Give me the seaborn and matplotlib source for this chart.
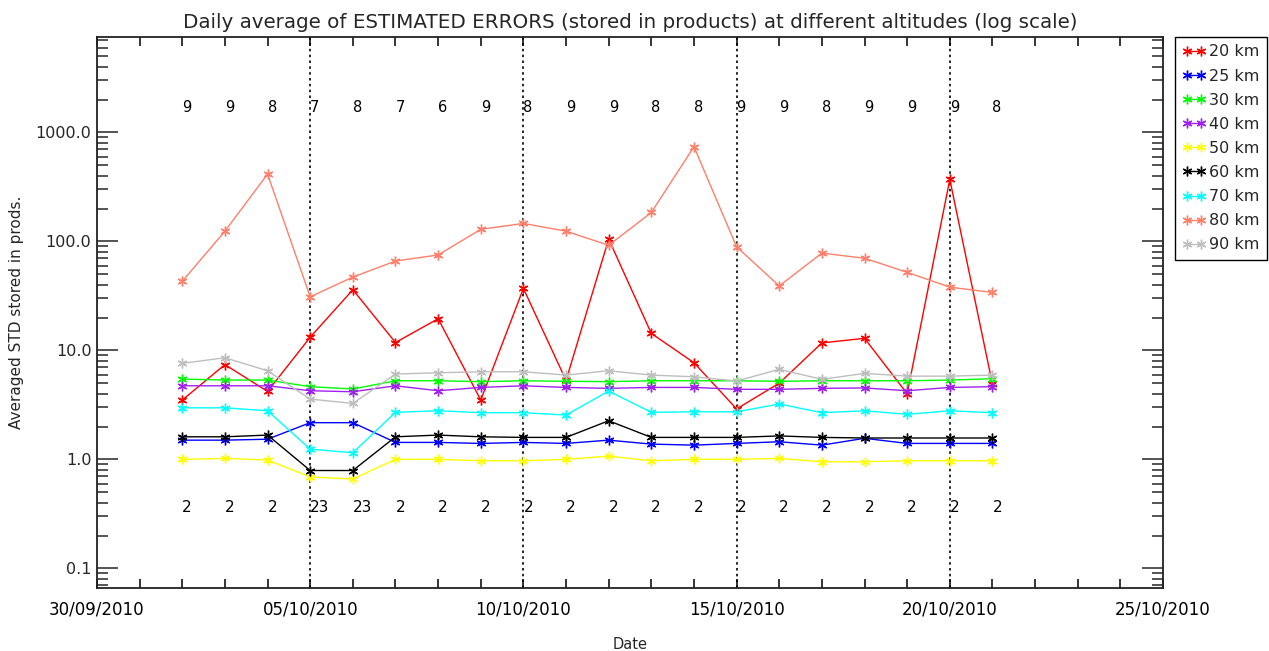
import matplotlib
matplotlib.use("Agg")
import matplotlib.pyplot as plt
import matplotlib.dates as mdates
import matplotlib.ticker as mticker
import pandas as pd
import seaborn as sns

# Daily dates of the averaged products
dates = pd.date_range("2010-10-02", "2010-10-21", freq="D")

# Daily average of estimated errors (stored in products) per altitude
err_20 = [3.5, 7.4, 4.2, 13.2, 36.0, 11.8, 19.5, 3.5, 37.0, 5.3, 105.0, 14.3, 7.7, 2.9, 5.0, 11.7, 12.9, 4.0, 370.0, 4.9]
err_25 = [1.50, 1.50, 1.53, 2.17, 2.17, 1.43, 1.43, 1.40, 1.43, 1.40, 1.50, 1.38, 1.35, 1.40, 1.45, 1.35, 1.56, 1.40, 1.40, 1.40]
err_30 = [5.45, 5.34, 5.34, 4.64, 4.42, 5.26, 5.26, 5.16, 5.26, 5.20, 5.16, 5.26, 5.26, 5.26, 5.20, 5.26, 5.26, 5.26, 5.34, 5.49]
err_40 = [4.73, 4.73, 4.73, 4.26, 4.17, 4.73, 4.26, 4.57, 4.73, 4.57, 4.48, 4.57, 4.57, 4.39, 4.39, 4.48, 4.52, 4.26, 4.57, 4.64]
err_50 = [1.00, 1.02, 0.985, 0.69, 0.66, 1.00, 1.00, 0.97, 0.97, 1.00, 1.07, 0.97, 1.00, 1.00, 1.02, 0.95, 0.95, 0.97, 0.97, 0.97]
err_60 = [1.61, 1.61, 1.67, 0.79, 0.79, 1.61, 1.67, 1.61, 1.59, 1.59, 2.26, 1.59, 1.59, 1.59, 1.64, 1.59, 1.57, 1.57, 1.57, 1.57]
err_70 = [2.97, 2.97, 2.79, 1.24, 1.15, 2.70, 2.79, 2.68, 2.68, 2.55, 4.23, 2.70, 2.73, 2.73, 3.22, 2.68, 2.79, 2.59, 2.79, 2.68]
err_80 = [43, 124, 414, 31, 47, 66, 75, 129, 146, 124, 92, 184, 738, 89, 39, 78, 70, 52, 38, 34]
err_90 = [7.6, 8.55, 6.5, 3.57, 3.26, 6.06, 6.23, 6.36, 6.36, 5.93, 6.5, 5.93, 5.72, 5.23, 6.7, 5.42, 6.15, 5.8, 5.8, 5.93]

altitudes = ["20 km", "25 km", "30 km", "40 km", "50 km", "60 km", "70 km", "80 km", "90 km"]
colors = ["#ff0000", "#0000ff", "#00ff00", "#a020f0", "#ffff00", "#000000", "#00ffff", "#ff7f6a", "#bebebe"]
series = [err_20, err_25, err_30, err_40, err_50, err_60, err_70, err_80, err_90]

# Number of products per day (upper row) and second count (lower row)
n_upper = [9, 9, 8, 7, 8, 7, 6, 9, 8, 9, 9, 8, 8, 9, 9, 8, 9, 9, 9, 8]
n_lower = ["2", "2", "2", "23", "23", "2", "2", "2", "2", "2", "2", "2", "2", "2", "2", "2", "2", "2", "2", "2"]

# Dates marked by dotted vertical lines and labelled date ticks
marked_dates = ["2010-10-05", "2010-10-10", "2010-10-15", "2010-10-20"]
tick_dates = ["2010-09-30", "2010-10-05", "2010-10-10", "2010-10-15", "2010-10-20", "2010-10-25"]

sns.set_style("ticks")
plt.rcParams["font.family"] = ["DejaVu Sans"]

W, H = 1269, 651
fig = plt.figure(figsize=(W / 100, H / 100), dpi=100)
left, right, top, bottom = 97, 1163, 37.3, 588.3
ax = fig.add_axes([left / W, 1 - bottom / H, (right - left) / W, (bottom - top) / H])
ax.set_yscale("log")

for label, vals, col in zip(altitudes, series, colors):
    sns.lineplot(x=dates, y=vals, ax=ax, color=col, linewidth=1.0,
                 marker=(6, 2, 0), markersize=7, markeredgecolor=col,
                 markeredgewidth=1.0, label=label)

for d in marked_dates:
    ax.axvline(mdates.date2num(pd.Timestamp(d)), color="black",
               linestyle=(0, (1.5, 2)), linewidth=1.2, zorder=1)

for d, nu, nl in zip(dates, n_upper, n_lower):
    xd = mdates.date2num(d)
    ax.text(xd, 1700, str(nu), ha="left", va="center", fontsize=10.5, color="black")
    ax.text(xd, 0.365, nl, ha="left", va="center", fontsize=11, color="black")

ax.set_xlim(mdates.date2num(pd.Timestamp(tick_dates[0])),
            mdates.date2num(pd.Timestamp(tick_dates[-1])))
ax.set_ylim(0.0656, 7450)

ax.set_xticks([mdates.date2num(pd.Timestamp(d)) for d in tick_dates])
ax.xaxis.set_major_formatter(mdates.DateFormatter("%d/%m/%Y"))
ax.xaxis.set_minor_locator(mdates.DayLocator())
ax.yaxis.set_major_locator(mticker.LogLocator(base=10))
ax.yaxis.set_major_formatter(mticker.FuncFormatter(lambda v, p: f"{v:.1f}"))
ax.yaxis.set_minor_locator(mticker.LogLocator(base=10, subs=range(2, 10)))
ax.yaxis.set_minor_formatter(mticker.NullFormatter())

ax.tick_params(axis="x", which="both", direction="in", length=6.5, width=1.1,
               top=True, bottom=True, labelsize=12, pad=9, colors="black")
ax.tick_params(axis="y", which="major", direction="in", length=15, width=1.1,
               left=True, right=True, labelsize=11.5, pad=4)
ax.tick_params(axis="y", which="minor", direction="in", length=8, width=1.1,
               left=True, right=True)

for sp in ax.spines.values():
    sp.set_color("#222222")
    sp.set_linewidth(1.3)

ax.set_title("Daily average of ESTIMATED ERRORS (stored in products) at different altitudes (log scale)",
             fontsize=14.3, pad=7)
ax.set_xlabel("Date", fontsize=10.5, labelpad=13)
ax.set_ylabel("Averaged STD stored in prods.", fontsize=11, labelpad=8)

leg = ax.legend(loc="upper left", bbox_to_anchor=(1.0113, 1.0), borderaxespad=0,
                numpoints=2, fontsize=11.5, frameon=True, fancybox=False,
                handlelength=1.5, handletextpad=0.2, labelspacing=0.57,
                borderpad=0.45)
leg.get_frame().set_edgecolor("black")
leg.get_frame().set_linewidth(1.0)
leg.get_frame().set_alpha(1)

fig.savefig("out.png", dpi=100)
